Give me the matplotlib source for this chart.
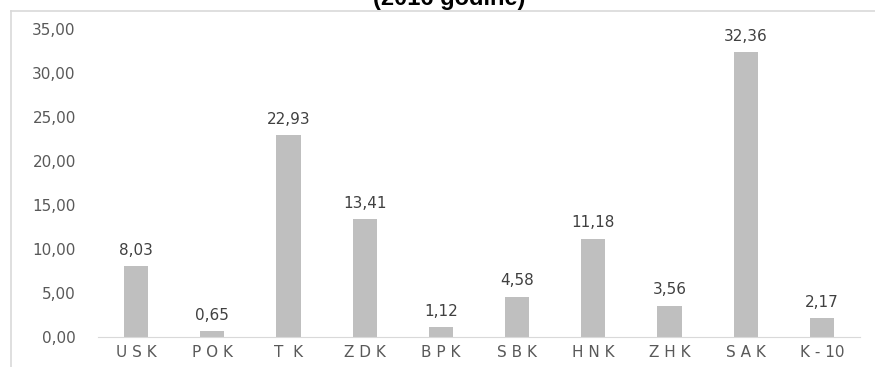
import numpy as np
import matplotlib.pyplot as plt
from matplotlib.lines import Line2D

# Values
categories = ["U S K", "P O K", "T  K", "Z D K", "B P K", "S B K", "H N K", "Z H K", "S A K", "K - 10"]
values = [8.03, 0.65, 22.93, 13.41, 1.12, 4.58, 11.18, 3.56, 32.36, 2.17]
yticks = [0, 5, 10, 15, 20, 25, 30, 35]

plt.rcParams['font.family'] = ['DejaVu Sans']

fig = plt.figure(figsize=(8.75, 3.67), dpi=100)
ax = fig.add_axes([98 / 875, 1 - 337 / 367, 762 / 875, 308 / 367])

# outer chart frame (top and left edges only are visible)
fy = 1 - 11 / 367
fx = 11 / 875
fig.lines.append(Line2D([fx, 1.0], [fy, fy], transform=fig.transFigure,
                        color='#d9d9d9', linewidth=1.2))
fig.lines.append(Line2D([fx, fx], [0.0, fy], transform=fig.transFigure,
                        color='#d9d9d9', linewidth=1.2))

x = np.arange(len(categories))
ax.bar(x, values, width=0.32, color='#bfbfbf')

for xi, v in zip(x, values):
    ax.annotate(f"{v:.2f}".replace('.', ','), (xi, v), xytext=(0, 6),
                textcoords='offset points', ha='center', va='bottom',
                fontsize=11, color='#404040')

ax.set_xlim(-0.5, len(categories) - 0.5)
ax.set_ylim(0, 35)
ax.set_yticks(yticks)
ax.set_yticklabels([f"{t:.2f}".replace('.', ',') for t in yticks])
ax.set_xticks(x)
ax.set_xticklabels(categories)

for s in ['top', 'right', 'left']:
    ax.spines[s].set_visible(False)
ax.spines['bottom'].set_color('#d9d9d9')
ax.tick_params(axis='both', length=0, labelsize=11, colors='#595959')
ax.tick_params(axis='y', pad=16)
ax.tick_params(axis='x', pad=6)

fig.text(449 / 875, 1 - 5 / 367, "(2016 godine)", ha='center', va='baseline',
         fontsize=17, fontweight='bold', family='Liberation Sans')

fig.savefig("out.png", dpi=100)
